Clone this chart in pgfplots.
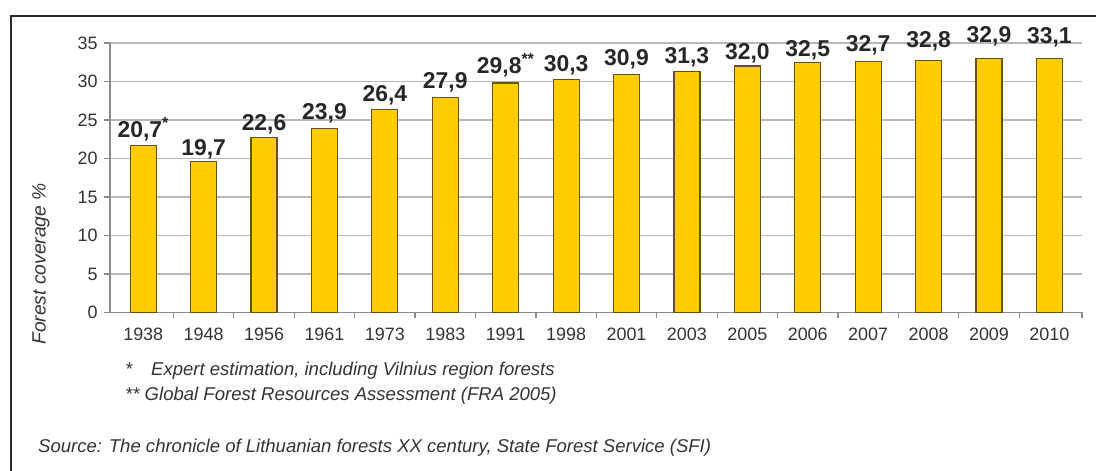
\documentclass[border=0pt]{standalone}
\usepackage{fontspec}
\setmainfont{Liberation Sans}
\usepackage{pgfplots}
\pgfplotsset{compat=1.18}
\definecolor{barfill}{HTML}{FFCC00}
\definecolor{barline}{HTML}{665214}
\definecolor{gridc}{HTML}{B8B8B8}
\definecolor{axisc}{HTML}{8A8A8A}
\definecolor{tickc}{HTML}{333333}
\definecolor{framec}{HTML}{2A2A2A}

\begin{document}
\begin{tikzpicture}[x=1bp,y=1bp]
\path[use as bounding box] (0,0) rectangle (1096,471);
\draw[line width=2.5bp, framec] (11,0) -- (11,455) -- (1096,455);

\begin{axis}[
  at={(110bp,158.5bp)}, anchor=south west,
  scale only axis, width=972bp, height=269.5bp,
  xmin=-0.55, xmax=15.54, ymin=0, ymax=35,
  axis x line*=bottom, axis y line*=left,
  axis line style={draw=axisc, line width=1.2bp},
  ytick={0,5,...,35},
  ymajorgrids, grid style={draw=gridc, line width=1.2bp},
  xtick={0.5,1.5,...,14.5,15.54}, xticklabels={},
  extra x ticks={0,...,15},
  extra x tick labels={1938,1948,1956,1961,1973,1983,1991,1998,2001,2003,2005,2006,2007,2008,2009,2010},
  extra x tick style={major tick length=0pt, grid=none},
  tick align=outside, major tick length=6bp,
  tick style={draw=axisc, line width=1.2bp},
  tick label style={font=\fontsize{18}{20}\selectfont, text=tickc},
  xticklabel style={yshift=-12bp},
  yticklabel style={xshift=-3bp},
  /pgf/number format/assume math mode=true,
  clip=false,
]
% bar heights as drawn
\addplot[ybar, bar width=26bp, fill=barfill, draw=barline, line width=1.2bp] coordinates {
  (0,21.7) (1,19.6) (2,22.7) (3,23.9) (4,26.4) (5,27.9) (6,29.8) (7,30.3)
  (8,30.9) (9,31.3) (10,32.0) (11,32.5) (12,32.6) (13,32.7) (14,33.0) (15,33.0)
};
% value labels, placed at their baselines
\addplot[draw=none, mark=none, point meta=explicit symbolic,
  nodes near coords,
  every node near coord/.append style={anchor=base, inner sep=0pt,
    font=\bfseries\fontsize{23}{24}\selectfont, text=black!85}]
  coordinates {
  (0,22.75) [20,7\textsuperscript{*}]
  (1,20.4) [19,7]
  (2,23.7) [22,6]
  (3,25.1) [23,9]
  (4,27.4) [26,4]
  (5,29.1) [27,9]
  (6,31.0) [29,8\textsuperscript{**}]
  (7,31.25) [30,3]
  (8,32.1) [30,9]
  (9,32.4) [31,3]
  (10,32.9) [32,0]
  (11,33.3) [32,5]
  (12,33.85) [32,7]
  (13,34.4) [32,8]
  (14,35.0) [32,9]
  (15,34.95) [33,1]
};
\end{axis}

\node[rotate=90, inner sep=0pt, font=\itshape\fontsize{19.3}{21}\selectfont, text=tickc]
  at (41,207) {Forest coverage \%};
\begin{scope}[every node/.style={anchor=base west, inner sep=0pt,
    font=\itshape\fontsize{18.6}{20}\selectfont, text=tickc}]
  \node at (125,95) {*};
  \node at (151,95) {Expert estimation, including Vilnius region forests};
  \node at (125,70) {** Global Forest Resources Assessment (FRA 2005)};
  \node at (38,18) {Source: The chronicle of Lithuanian forests XX century, State Forest Service (SFI)};
\end{scope}
\end{tikzpicture}
\end{document}
